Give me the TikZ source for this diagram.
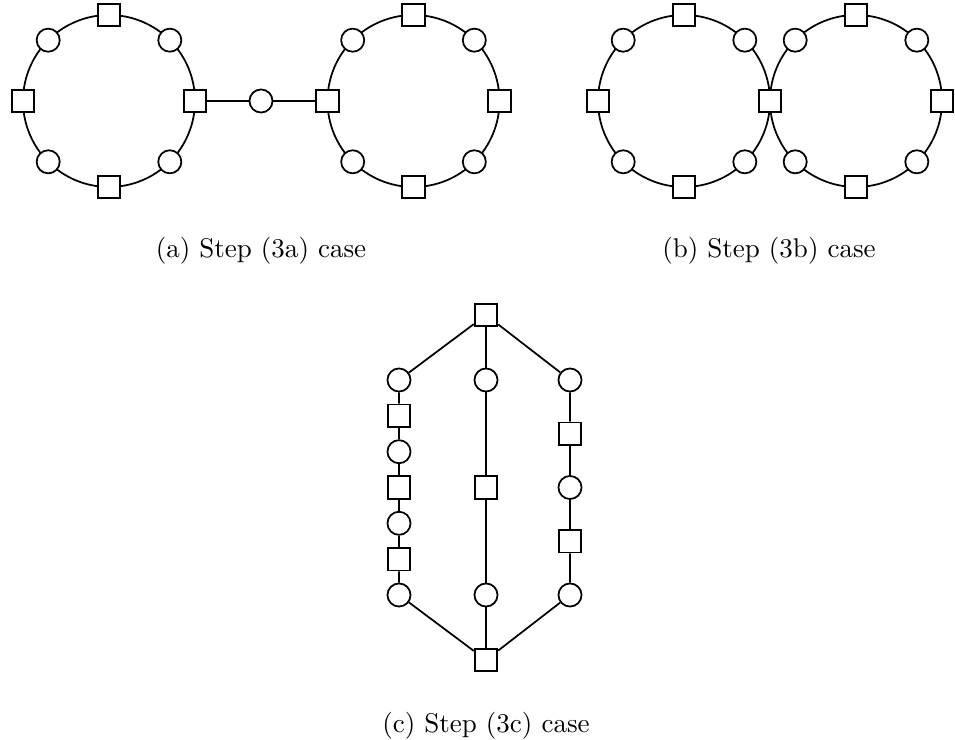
\documentclass[tikz,border=0pt]{standalone}
\usetikzlibrary{backgrounds}

\tikzset{sq/.style = {draw, fill=white, minimum size=2.95mm, inner sep=0pt},
         rd/.style = {draw, circle, fill=white, minimum size=3mm, inner sep=0pt}
        }

\begin{document}
\begin{tikzpicture}[x=0.13mm, y=0.13mm, line width=0.65pt]
  \useasboundingbox (0, 0) rectangle (955, -740);
  % rings of (a) and (b): circles on the diagonals, squares on the axes
  \foreach \r/\x in {p/109, q/413.5, s/684, t/856}
      {\foreach \k in {1, 3, 5, 7} {\node[rd] (\r\k) at ([shift={(\k*45:86)}] \x, -101) {};};};
  \foreach \r/\x in {p/109, q/413.5, s/684}
      {\foreach \k in {0, 2, 4, 6} {\node[sq] (\r\k) at ([shift={(\k*45:86)}] \x, -101) {};};};
  \foreach \k in {0, 2, 6} {\node[sq] (t\k) at ([shift={(\k*45:86)}] 856, -101) {};};
  \pgfnodealias{t4}{s0}
  \begin{scope}[on background layer={line width=0.65pt}]
    \foreach \r in {p, q, s, t}
        {\foreach \k in {0, ..., 7} {\draw (\r\k.center) arc[start angle=\k*45, delta angle=45, radius=86];};};
  \end{scope}
  \node[rd] (m) at (261, -101) {};
  \draw (p0) -- (m) -- (q4);

  % (c): three paths between two squares
  \node[sq] (top) at (486, -315) {};
  \node[sq] (bot) at (486, -660) {};
  \foreach \k/\y in {1/380, 3/451.7, 5/523.3, 7/595} {\node[rd] (l\k) at (399, -\y) {};};
  \foreach \k/\y in {2/415.8, 4/487.5, 6/559.2} {\node[sq] (l\k) at (399, -\y) {};};
  \node[rd] (c1) at (486, -380) {};
  \node[sq] (c2) at (486, -487.5) {};
  \node[rd] (c3) at (486, -595) {};
  \foreach \k/\y in {1/380, 3/487.5, 5/595} {\node[rd] (r\k) at (570, -\y) {};};
  \foreach \k/\y in {2/433.75, 4/541.25} {\node[sq] (r\k) at (570, -\y) {};};
  \draw (top) -- (l1) -- (l2) -- (l3) -- (l4) -- (l5) -- (l6) -- (l7) -- (bot);
  \draw (top) -- (c1) -- (c2) -- (c3) -- (bot);
  \draw (top) -- (r1) -- (r2) -- (r3) -- (r4) -- (r5) -- (bot);

  \node[anchor=base] (capa) at (261, -258) {(a) Step (3a) case};
  \node[anchor=base] (capb) at (769, -258) {(b) Step (3b) case};
  \node[anchor=base] (capc) at (486, -732) {(c) Step (3c) case};
\end{tikzpicture}
\end{document}
